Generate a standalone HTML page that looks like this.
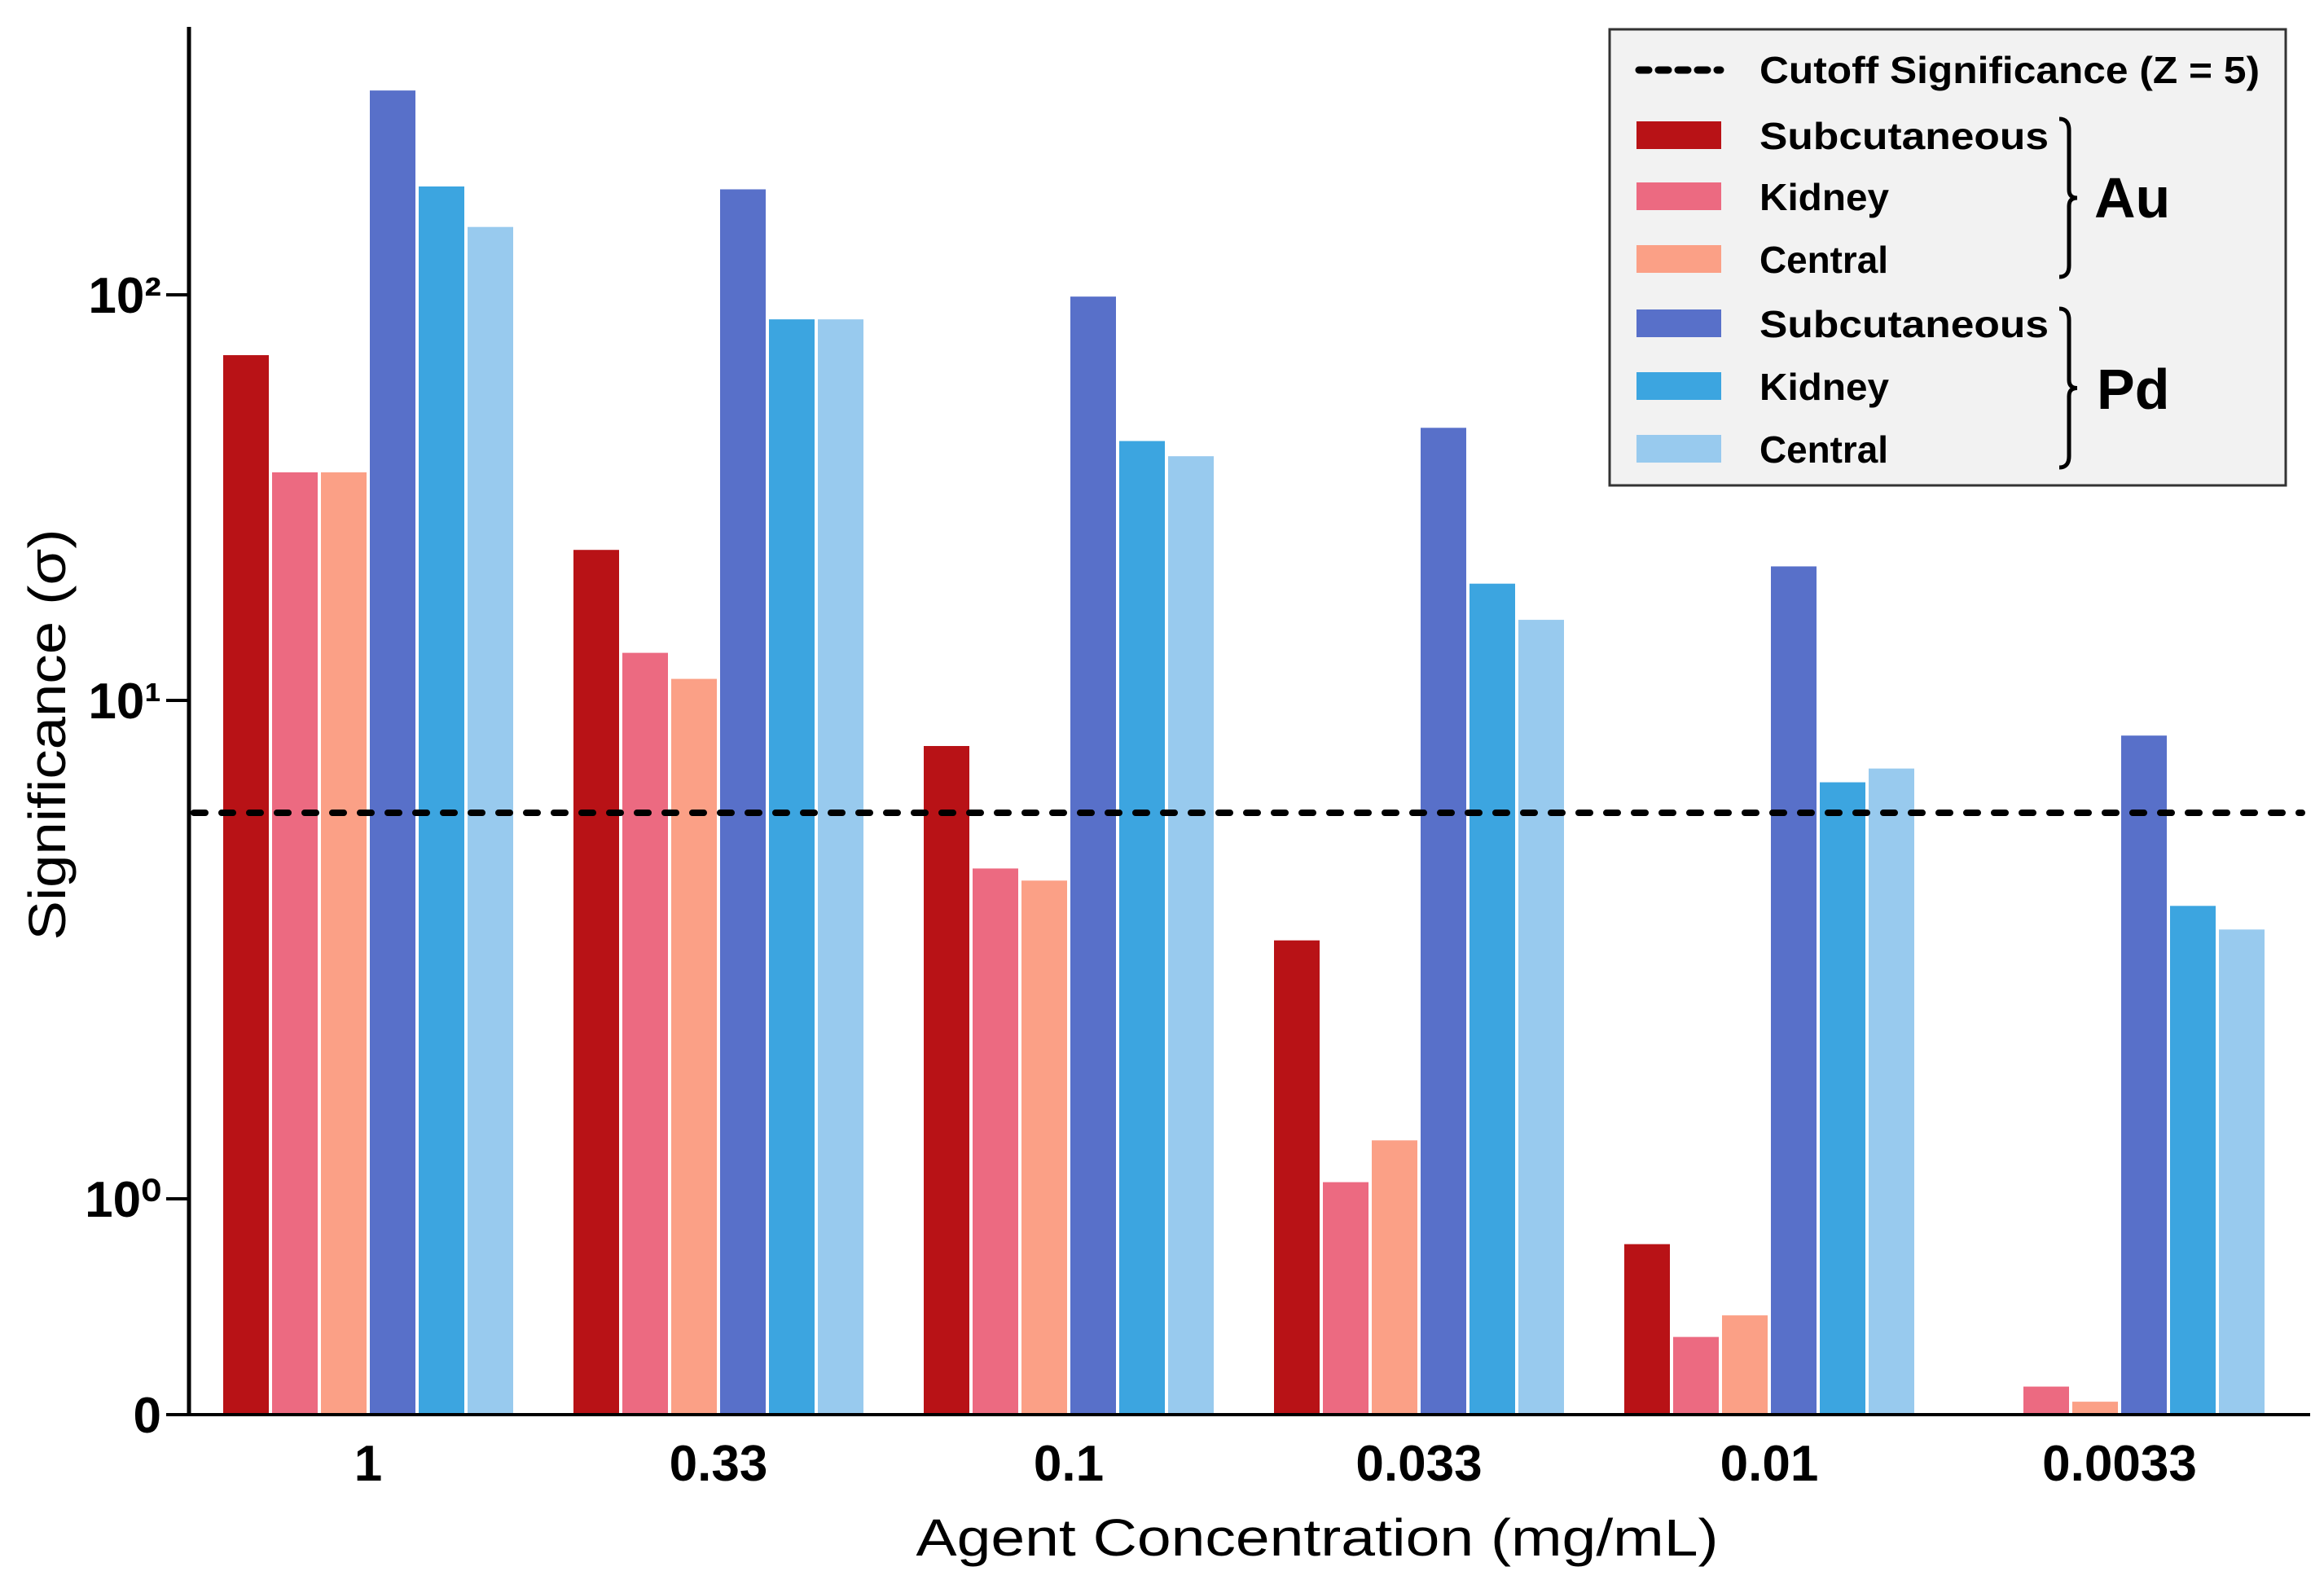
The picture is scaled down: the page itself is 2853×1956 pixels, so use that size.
<!DOCTYPE html>
<html><head><meta charset="utf-8"><style>
html,body{margin:0;padding:0;background:#fff;}
svg{display:block;}
text{font-family:"Liberation Sans",Arial,sans-serif;}
</style></head><body>
<svg id="chart" width="2853" height="1956" viewBox="0 0 2853 1956" xmlns="http://www.w3.org/2000/svg">
<g id="bars"></g>
<g id="axes"></g>
<g id="legend" transform="translate(-12,0)"></g>
</svg>
<script>
const categories = ["1","0.33","0.1","0.033","0.01","0.0033"];
const auSubcutaneous = [71, 23.5, 8.1, 3.3, 0.79, 0];
const auKidney = [36.5, 13.1, 4.6, 1.08, 0.36, 0.13];
const auCentral = [36.5, 11.3, 4.35, 1.31, 0.46, 0.06];
const pdSubcutaneous = [319, 182, 99, 47, 21.4, 8.5];
const pdKidney = [185, 87, 43.6, 19.4, 6.85, 3.87];
const pdCentral = [147, 87, 40, 15.8, 7.3, 3.47];
const cutoffValue = [5.95];
const yTickValues = [0, 1, 10, 100];
const yTickLabels = ["0", "10\u2070", "10\u00B9", "10\u00B2"];
const seriesNames = ["Subcutaneous","Kidney","Central","Subcutaneous","Kidney","Central"];

const series = [auSubcutaneous, auKidney, auCentral, pdSubcutaneous, pdKidney, pdCentral];
const colors = ["#b81216","#ec6a81","#fba086","#5870c9","#3ca5e0","#98caee"];
const NS = "http://www.w3.org/2000/svg";

const axisX = 232, baseY = 1737, axisTop = 33, axisRight = 2836;
const py0 = 1737, py1 = 1472, py10 = 860, py100 = 362;
function yScale(v){
  if (v <= 0) return py0;
  if (v <= 1) return py0 - (py0 - py1) * v;
  const l = Math.log10(v);
  if (l <= 1) return py1 - (py1 - py10) * l;
  return py10 - (py10 - py100) * (l - 1);
}
const groupStart = 274, groupStep = 430, slot = 60, barW = 56;
function xGroup(i){ return groupStart + i * groupStep; }
function xBar(i, s){ return xGroup(i) + s * slot; }

function el(tag, attrs, parent){
  const e = document.createElementNS(NS, tag);
  for (const k in attrs) e.setAttribute(k, attrs[k]);
  parent.appendChild(e);
  return e;
}
const gb = document.getElementById('bars');
const ga = document.getElementById('axes');
const gl = document.getElementById('legend');

series.forEach((arr, s) => {
  arr.forEach((v, i) => {
    if (v <= 0) return;
    const y = yScale(v);
    const r = el('rect', {x: xBar(i, s), y: y, width: barW, height: baseY - y, fill: colors[s]}, gb);
    
    
  });
});

const cy = yScale(cutoffValue[0]);
const cl = el('line', {x1: axisX + 6, x2: 2826, y1: cy, y2: cy, stroke: '#000', 'stroke-width': 8, 'stroke-dasharray': '14 20', 'stroke-linecap': 'round'}, ga);



const yl = el('line', {x1: axisX, x2: axisX, y1: axisTop, y2: baseY + 2, stroke: '#000', 'stroke-width': 5}, ga);


const xl = el('line', {x1: axisX - 2, x2: axisRight, y1: baseY, y2: baseY, stroke: '#000', 'stroke-width': 4}, ga);



yTickValues.forEach((v, i) => {
  const y = yScale(v);
  const t = el('line', {x1: axisX - 28, x2: axisX, y1: y, y2: y, stroke: '#000', 'stroke-width': 4}, ga);
  
  
  const tx = el('text', {x: axisX - 34, y: y + 22, 'text-anchor': 'end', 'font-size': 62, 'font-weight': 'bold', fill: '#000'}, ga);
  tx.textContent = yTickLabels[i];
  
  
});

categories.forEach((c, i) => {
  const cx = xGroup(i) + 3 * slot - 2;
  const tx = el('text', {x: cx, y: 1818, 'text-anchor': 'middle', 'font-size': 62, 'font-weight': 'bold', fill: '#000'}, ga);
  tx.textContent = c;
  
  
});

const xt = el('text', {x: 1617, y: 1910, 'text-anchor': 'middle', 'font-size': 64, fill: '#000', textLength: 985, lengthAdjust: 'spacingAndGlyphs'}, ga);
xt.textContent = 'Agent Concentration (mg/mL)';


const yt = el('text', {x: 0, y: 0, 'text-anchor': 'middle', 'font-size': 64, fill: '#000', transform: 'translate(80,902) rotate(-90)', textLength: 505, lengthAdjust: 'spacingAndGlyphs'}, ga);
yt.textContent = 'Significance (\u03C3)';



const lb = el('rect', {x: 1988, y: 36, width: 830, height: 560, fill: '#f2f2f2', stroke: '#333', 'stroke-width': 3}, gl);


const rowY = [86, 166, 241, 318, 397, 474, 551];
const ll = el('line', {x1: 2024, x2: 2124, y1: rowY[0], y2: rowY[0], stroke: '#000', 'stroke-width': 9, 'stroke-dasharray': '12 12', 'stroke-linecap': 'round'}, gl);


const lt0 = el('text', {x: 2172, y: rowY[0] + 16, 'font-size': 46, 'font-weight': 'bold', fill: '#000', textLength: 614, lengthAdjust: 'spacingAndGlyphs'}, gl);
lt0.textContent = 'Cutoff Significance (Z = 5)';


const textLens = [355, 159, 158, 355, 159, 158];
seriesNames.forEach((n, s) => {
  const y = rowY[s + 1];
  const sw = el('rect', {x: 2021, y: y - 17, width: 104, height: 34, fill: colors[s]}, gl);
  
  
  const t = el('text', {x: 2172, y: y + 17, 'font-size': 46, 'font-weight': 'bold', fill: '#000', textLength: textLens[s], lengthAdjust: 'spacingAndGlyphs'}, gl);
  t.textContent = n;
  
  
});
function brace(x, y1, y2, name){
  const m = (y1 + y2) / 2;
  const d = `M${x} ${y1} Q${x+12} ${y1} ${x+12} ${y1+14} L${x+12} ${m-10} Q${x+12} ${m} ${x+22} ${m} Q${x+12} ${m} ${x+12} ${m+10} L${x+12} ${y2-14} Q${x+12} ${y2} ${x} ${y2}`;
  const p = el('path', {d: d, fill: 'none', stroke: '#000', 'stroke-width': 5}, gl);
  
  
}
brace(2540, 146, 340, 'au-brace');
brace(2540, 379, 574, 'pd-brace');
const au = el('text', {x: 2583, y: 267, 'font-size': 70, 'font-weight': 'bold', fill: '#000'}, gl);
au.textContent = 'Au';


const pd = el('text', {x: 2586, y: 502, 'font-size': 70, 'font-weight': 'bold', fill: '#000'}, gl);
pd.textContent = 'Pd';


</script>
</body></html>
